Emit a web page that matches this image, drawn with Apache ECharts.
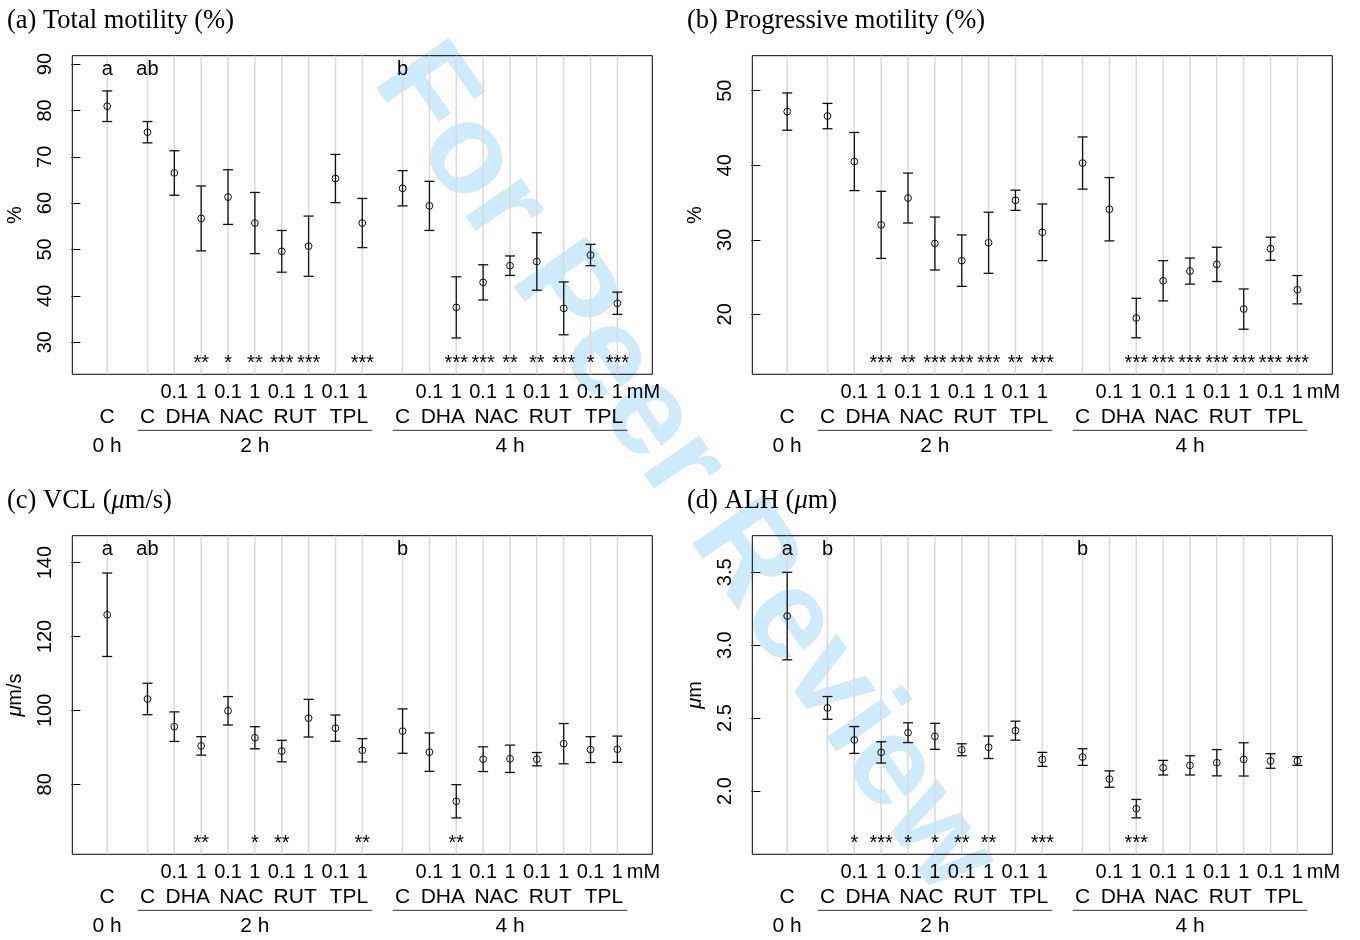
<!DOCTYPE html>
<html><head><meta charset="utf-8">
<script src="https://cdn.jsdelivr.net/npm/echarts@6/dist/echarts.min.js"></script>
<style>html,body{margin:0;padding:0;background:#fff}#chart{width:1360px;height:940px}</style>
</head><body><div id="chart"></div>
<script>
// ---------------- data ----------------
const timeLabels = ['0 h', '2 h', '4 h'];
const treatments = ['C', 'DHA', 'NAC', 'RUT', 'TPL'];
const doses = ['0.1', '1'];
const doseUnit = 'mM';

// order: 0h C | 2h C, DHA0.1, DHA1, NAC0.1, NAC1, RUT0.1, RUT1, TPL0.1, TPL1 | 4h same
const totalMean = [80.9, 75.3, 66.5, 56.7, 61.3, 55.7, 49.6, 50.7, 65.3, 55.7, 63.2, 59.4, 37.5, 42.9, 46.5, 47.4, 37.3, 48.8, 38.4];
const totalErr  = [3.3, 2.3, 4.8, 7.0, 5.9, 6.6, 4.5, 6.5, 5.2, 5.3, 3.8, 5.3, 6.6, 3.8, 2.1, 6.2, 5.7, 2.3, 2.4];
const totalStars = ['', '', '', '**', '*', '**', '***', '***', '', '***', '', '', '***', '***', '**', '**', '***', '*', '***'];
const totalLetters = ['a', 'ab', '', '', '', '', '', '', '', '', 'b', '', '', '', '', '', '', '', ''];
const totalTicks = [30, 40, 50, 60, 70, 80, 90];
const totalRange = [23.07, 91.8];

const progMean = [47.2, 46.6, 40.5, 32.0, 35.6, 29.5, 27.2, 29.6, 35.3, 31.0, 40.3, 34.1, 19.5, 24.5, 25.8, 26.7, 20.7, 28.8, 23.3];
const progErr  = [2.5, 1.7, 3.9, 4.5, 3.35, 3.55, 3.45, 4.1, 1.35, 3.8, 3.5, 4.25, 2.65, 2.7, 1.75, 2.3, 2.7, 1.55, 1.9];
const progStars = ['', '', '', '***', '**', '***', '***', '***', '**', '***', '', '', '***', '***', '***', '***', '***', '***', '***'];
const progLetters = ['', '', '', '', '', '', '', '', '', '', '', '', '', '', '', '', '', '', ''];
const progTicks = [20, 30, 40, 50];
const progRange = [11.95, 54.7];

const vclMean = [125.9, 103.1, 95.6, 90.4, 99.9, 92.6, 89.0, 97.9, 95.2, 89.2, 94.4, 88.7, 75.4, 86.8, 86.9, 86.8, 91.0, 89.4, 89.5];
const vclErr  = [11.3, 4.25, 4.0, 2.5, 3.85, 3.0, 2.9, 5.1, 3.55, 3.15, 6.0, 5.2, 4.5, 3.35, 3.7, 1.8, 5.45, 3.5, 3.55];
const vclStars = ['', '', '', '**', '', '*', '**', '', '', '**', '', '', '**', '', '', '', '', '', ''];
const vclLetters = ['a', 'ab', '', '', '', '', '', '', '', '', 'b', '', '', '', '', '', '', '', ''];
const vclTicks = [80, 100, 120, 140];
const vclRange = [61.05, 147.3];

const alhMean = [3.20, 2.57, 2.35, 2.265, 2.40, 2.375, 2.283, 2.30, 2.414, 2.217, 2.233, 2.082, 1.879, 2.16, 2.176, 2.194, 2.217, 2.206, 2.206];
const alhErr  = [0.30, 0.078, 0.092, 0.073, 0.068, 0.089, 0.041, 0.077, 0.065, 0.048, 0.057, 0.056, 0.063, 0.05, 0.066, 0.09, 0.114, 0.05, 0.03];
const alhStars = ['', '', '*', '***', '*', '*', '**', '**', '', '***', '', '', '***', '', '', '', '', '', ''];
const alhLetters = ['a', 'b', '', '', '', '', '', '', '', '', 'b', '', '', '', '', '', '', '', ''];
const alhTicks = [2.0, 2.5, 3.0, 3.5];
const alhRange = [1.566, 3.751];

const panelTitles = ['(a) Total motility (%)', '(b) Progressive motility (%)', '(c) VCL ({i|\u03bc}m/s)', '(d) ALH ({i|\u03bc}m)'];
const yNames = ['%', '%', '{i|\u03bc}m/s', '{i|\u03bc}m'];
const watermark = 'For Peer Review';

// ---------------- layout helpers ----------------
const SANS = "'Liberation Sans', Arial, Helvetica, sans-serif";
const SERIF = "'Liberation Serif', 'Times New Roman', serif";

// x positions: 0h control, then 2h group, then 4h group (gap of 1.5 between groups)
const xPos = [], doseLab = [];
xPos.push(1); doseLab.push('');
const groupStarts = [];
[2.5, 12].forEach(start => {
  groupStarts.push(xPos.length);
  xPos.push(start); doseLab.push('');
  for (let t = 1; t < treatments.length; t++) {
    for (let d = 0; d < doses.length; d++) {
      xPos.push(start + 1 + (t - 1) * 2 + d);
      doseLab.push(doses[d]);
    }
  }
});

const axisTexts = [];
xPos.forEach((x, i) => { if (doseLab[i]) axisTexts.push({ x, row: 0, text: doseLab[i], align: 'center' }); });
axisTexts.push({ x: xPos[xPos.length - 1] + 0.35, row: 0, text: doseUnit, align: 'left' });
axisTexts.push({ x: xPos[0], row: 1, text: treatments[0], align: 'center' });
axisTexts.push({ x: xPos[0], row: 2, text: timeLabels[0], align: 'center' });
const underlines = [];
groupStarts.forEach((s, g) => {
  axisTexts.push({ x: xPos[s], row: 1, text: treatments[0], align: 'center' });
  for (let t = 1; t < treatments.length; t++) {
    axisTexts.push({ x: (xPos[s + 2 * t - 1] + xPos[s + 2 * t]) / 2, row: 1, text: treatments[t], align: 'center' });
  }
  axisTexts.push({ x: (xPos[s] + xPos[s + 8]) / 2, row: 2, text: timeLabels[g + 1], align: 'center' });
  underlines.push([xPos[s] - 0.37, xPos[s + 8] + 0.37]);
});

const panels = [
  { mean: totalMean, err: totalErr, stars: totalStars, letters: totalLetters, ticks: totalTicks, range: totalRange, dec: 0 },
  { mean: progMean, err: progErr, stars: progStars, letters: progLetters, ticks: progTicks, range: progRange, dec: 0 },
  { mean: vclMean, err: vclErr, stars: vclStars, letters: vclLetters, ticks: vclTicks, range: vclRange, dec: 0 },
  { mean: alhMean, err: alhErr, stars: alhStars, letters: alhLetters, ticks: alhTicks, range: alhRange, dec: 1 }
];
const gridPos = [
  { left: 72.3, top: 55.7 }, { left: 752.3, top: 55.7 },
  { left: 72.3, top: 535.7 }, { left: 752.3, top: 535.7 }
];
const GW = 580, GH = 318.6;
const titlePos = [{ left: 7, top: 8 }, { left: 687, top: 8 }, { left: 7, top: 488 }, { left: 687, top: 488 }];
const rowOff = [18, 43, 72];
const rowFont = [20, 21, 21];

const option = {
  backgroundColor: '#fff',
  animation: false,
  title: [], grid: [], xAxis: [], yAxis: [], series: [],
  graphic: [{
    type: 'text', z: -10,
    x: 684, y: 470, rotation: -0.965,
    style: { text: watermark, font: "bold 128px " + SANS, fill: '#cdebfa', textAlign: 'center', textVerticalAlign: 'middle', align: 'center', verticalAlign: 'middle' }
  }]
};

const line = (x1, y1, x2, y2, w, c) => ({ type: 'line', shape: { x1, y1, x2, y2 }, style: { stroke: c || '#111', lineWidth: w || 1.2 } });
const txt = (x, y, text, size, align) => ({
  type: 'text', x, y,
  style: { text, font: size + 'px ' + SANS, fill: '#000', textAlign: align || 'center', textVerticalAlign: 'middle', align: align || 'center', verticalAlign: 'middle' }
});

panels.forEach((p, k) => {
  option.title.push({
    text: panelTitles[k], left: titlePos[k].left, top: titlePos[k].top, padding: 0,
    textStyle: { fontFamily: SERIF, fontSize: 26.5, fontWeight: 'normal', color: '#000',
      rich: { i: { fontFamily: SERIF, fontSize: 26.5, fontStyle: 'italic', color: '#000' } } }
  });
  option.grid.push({ left: gridPos[k].left, top: gridPos[k].top, width: GW, height: GH, show: true, borderColor: '#000', borderWidth: 1, backgroundColor: 'transparent' });
  option.xAxis.push({ type: 'value', gridIndex: k, min: -0.3, max: 21.3, show: false });
  option.yAxis.push({
    type: 'value', gridIndex: k, min: p.range[0], max: p.range[1],
    axisLine: { show: false },
    axisTick: { show: true, length: 9, customValues: p.ticks, lineStyle: { color: '#000', width: 1 } },
    axisLabel: { customValues: p.ticks, rotate: 90, margin: 17, fontSize: 20, fontFamily: SANS, color: '#000',
      formatter: v => Number(v).toFixed(p.dec) },
    splitLine: { show: false },
    name: yNames[k], nameLocation: 'middle', nameGap: 47,
    nameTextStyle: { fontSize: 20, fontFamily: SANS, color: '#000',
      rich: { i: { fontSize: 20, fontFamily: SANS, fontStyle: 'italic', color: '#000' } } }
  });
  // grey vertical guide lines
  option.series.push({
    type: 'custom', xAxisIndex: k, yAxisIndex: k, silent: true, z: 1,
    data: xPos.map(x => [x]),
    renderItem: (params, api) => {
      const cs = params.coordSys;
      const px = api.coord([api.value(0), p.range[0]])[0];
      return line(px, cs.y, px, cs.y + cs.height, 1.5, '#d9d9d9');
    }
  });
  // error bars + open circles
  option.series.push({
    type: 'custom', xAxisIndex: k, yAxisIndex: k, silent: true, z: 3,
    data: xPos.map((x, i) => [x, p.mean[i], p.err[i]]),
    encode: { x: 0, y: 1 },
    renderItem: (params, api) => {
      const x = api.value(0), m = api.value(1), e = api.value(2);
      const hi = api.coord([x, m + e]), lo = api.coord([x, m - e]), c = api.coord([x, m]);
      const cap = 5;
      return { type: 'group', children: [
        line(hi[0], hi[1], lo[0], lo[1], 1.3),
        line(hi[0] - cap, hi[1], hi[0] + cap, hi[1], 1.3),
        line(lo[0] - cap, lo[1], lo[0] + cap, lo[1], 1.3),
        { type: 'circle', shape: { cx: c[0], cy: c[1], r: 3.4 }, style: { stroke: '#111', fill: null, lineWidth: 1 } }
      ] };
    }
  });
  // significance stars and group letters
  option.series.push({
    type: 'custom', xAxisIndex: k, yAxisIndex: k, silent: true, z: 4,
    data: xPos.map((x, i) => [x, i]),
    renderItem: (params, api) => {
      const cs = params.coordSys;
      const i = params.dataIndex;
      const px = api.coord([api.value(0), p.range[0]])[0];
      const ch = [];
      if (p.stars[i]) ch.push(txt(px, cs.y + cs.height - 11, p.stars[i], 20));
      if (p.letters[i]) ch.push(txt(px, cs.y + 14, p.letters[i], 20));
      return { type: 'group', children: ch };
    }
  });
  // category labels below the plot
  option.series.push({
    type: 'custom', xAxisIndex: k, yAxisIndex: k, silent: true, z: 4, clip: false,
    data: axisTexts.map(d => [d.x, d.row]),
    renderItem: (params, api) => {
      const cs = params.coordSys;
      const d = axisTexts[params.dataIndex];
      const px = api.coord([d.x, p.range[0]])[0];
      return txt(px, cs.y + cs.height + rowOff[d.row], d.text, rowFont[d.row], d.align);
    }
  });
  option.series.push({
    type: 'custom', xAxisIndex: k, yAxisIndex: k, silent: true, z: 4, clip: false,
    data: underlines,
    renderItem: (params, api) => {
      const cs = params.coordSys;
      const a = api.coord([api.value(0), p.range[0]])[0];
      const b = api.coord([api.value(1), p.range[0]])[0];
      const y = cs.y + cs.height + 56;
      return line(a, y, b, y, 1, '#333');
    }
  });
});

const chart = echarts.init(document.getElementById('chart'), null, { renderer: 'canvas' });
chart.setOption(option);
</script>
</body></html>
